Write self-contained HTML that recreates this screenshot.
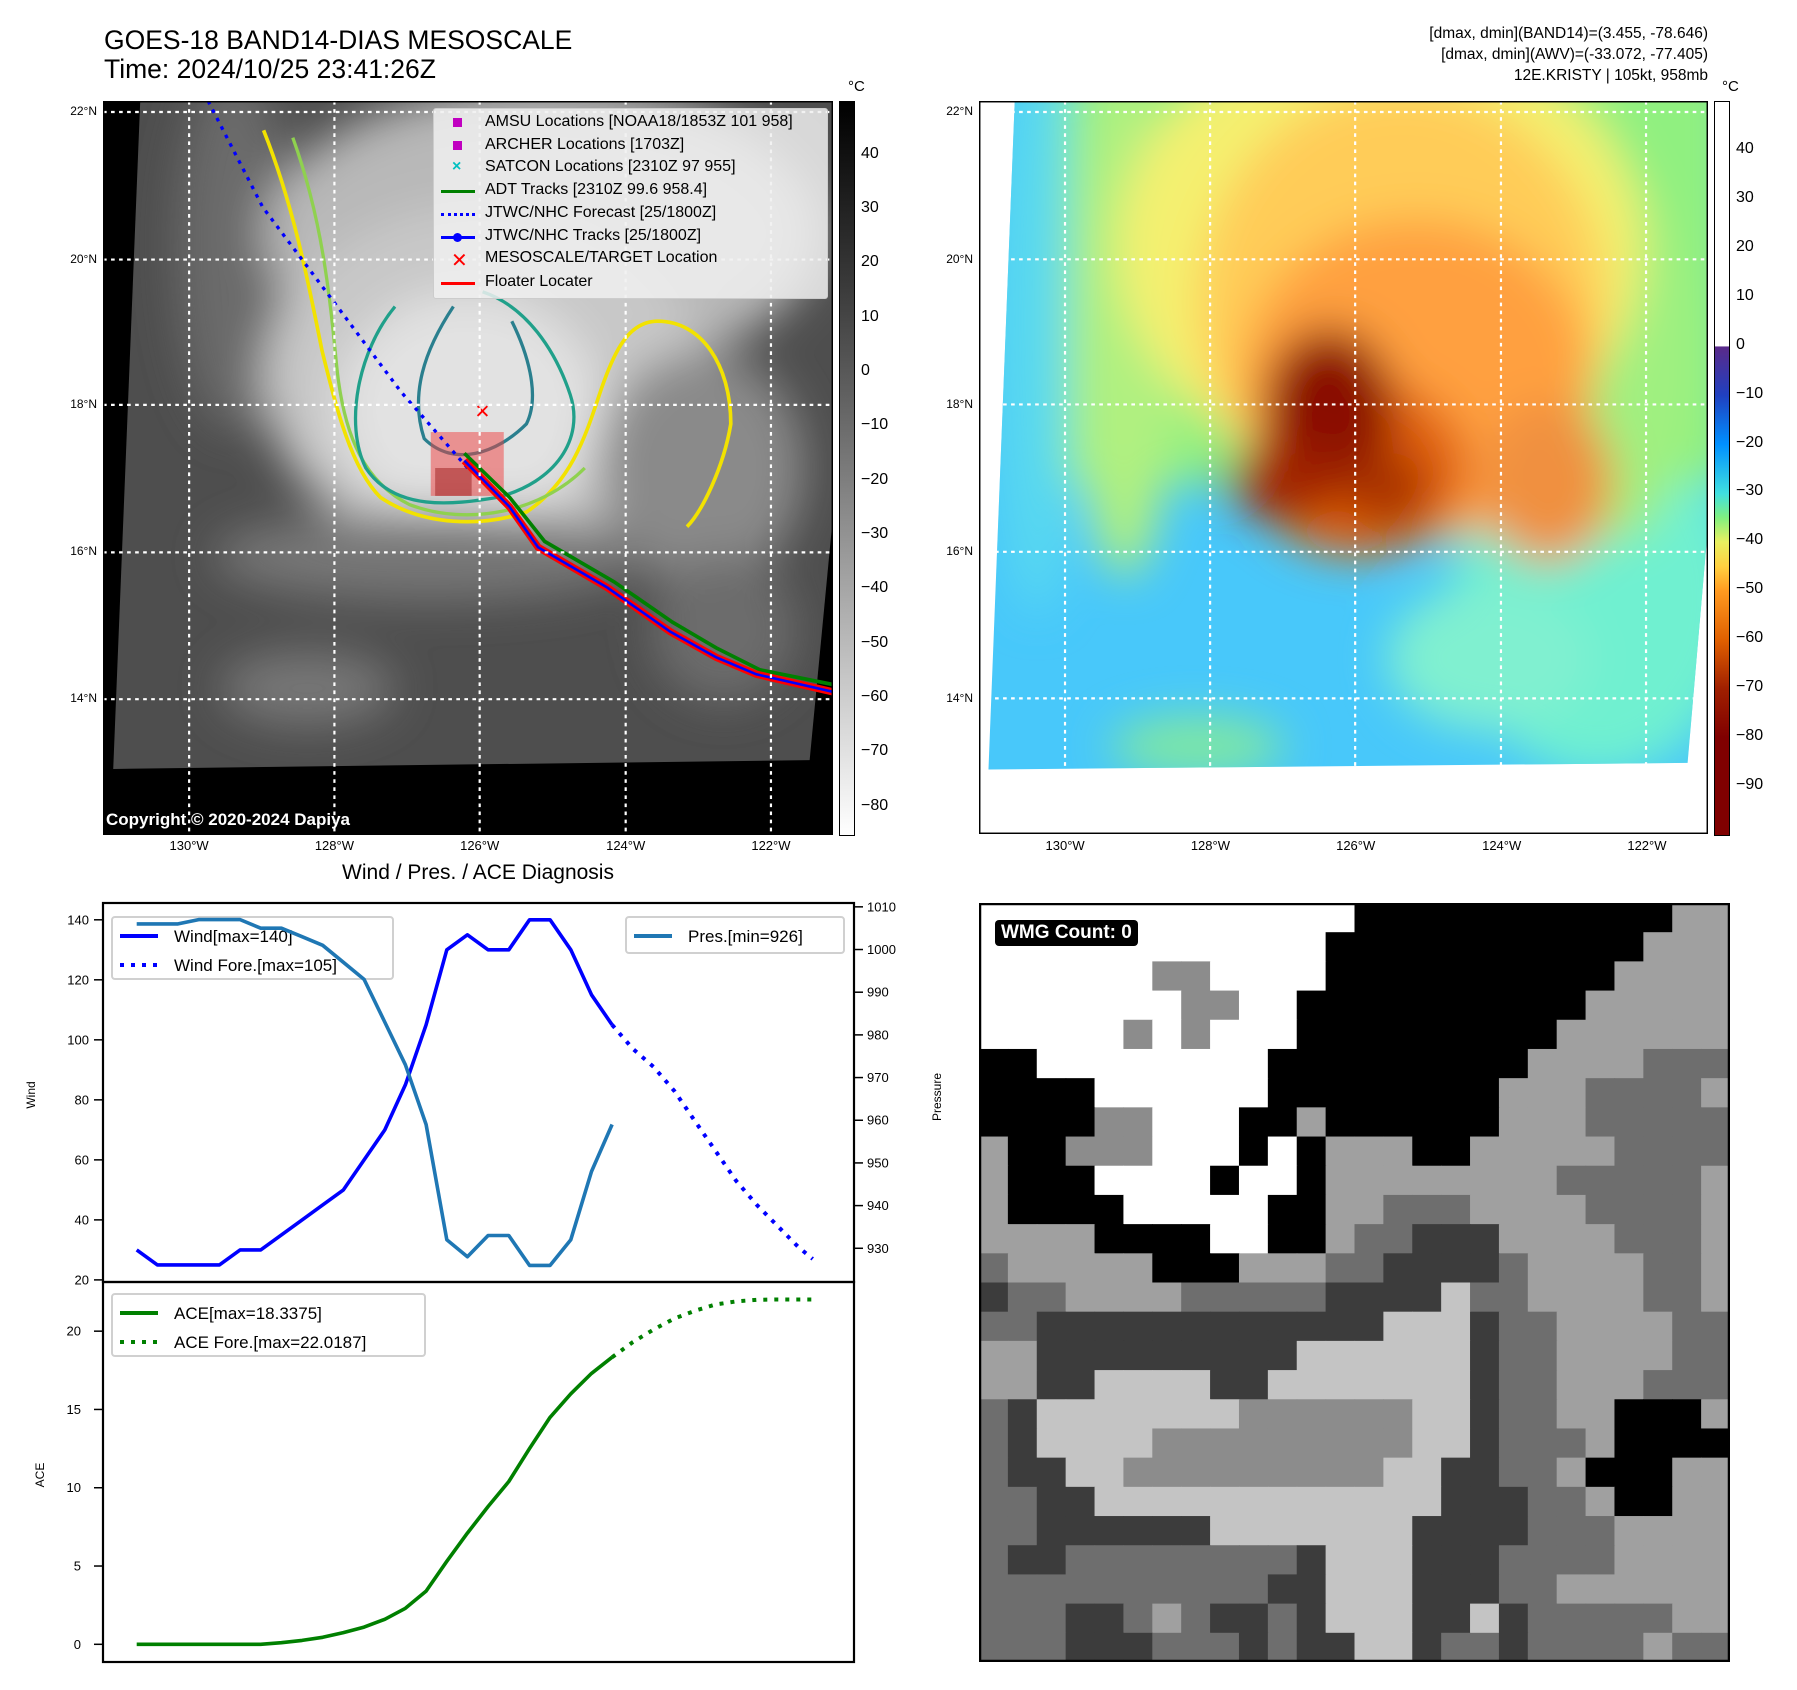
<!DOCTYPE html>
<html><head><meta charset="utf-8">
<style>
html,body{margin:0;padding:0;background:#fff;}
body{width:1797px;height:1690px;position:relative;overflow:hidden;font-family:"Liberation Sans","DejaVu Sans",sans-serif;}
.abs{position:absolute;}
.t{position:absolute;white-space:nowrap;color:#000;}
</style></head>
<body>
<div class="t" style="left:104px;top:26px;font-size:26.5px;line-height:29px;">GOES-18 BAND14-DIAS MESOSCALE<br>Time: 2024/10/25 23:41:26Z</div>
<div class="t" style="right:89px;top:23px;font-size:15.5px;line-height:21px;text-align:right;">[dmax, dmin](BAND14)=(3.455, -78.646)<br>[dmax, dmin](AWV)=(-33.072, -77.405)<br>12E.KRISTY | 105kt, 958mb</div>

<!-- LEFT MAP -->
<svg class="abs" style="left:103px;top:101px;" width="730" height="734" viewBox="0 0 100 100" preserveAspectRatio="none">
<defs>
<filter id="b1" x="-30%" y="-30%" width="160%" height="160%"><feGaussianBlur stdDeviation="3"/></filter>
<filter id="b2" x="-30%" y="-30%" width="160%" height="160%"><feGaussianBlur stdDeviation="1.5"/></filter>
<clipPath id="qL"><polygon points="5.1,0 100,0 100,56.5 96.8,89.8 1.4,91"/></clipPath>
<clipPath id="qR"><polygon points="4.9,0 100,0 100,58 97.2,90.3 1.3,91.2"/></clipPath>
</defs>
<rect x="0" y="0" width="100" height="100" fill="#000"/>
<g clip-path="url(#qL)">
<rect x="0" y="0" width="100" height="100" fill="#4e4e4e"/>
<g filter="url(#b1)">
<ellipse cx="18" cy="20" rx="8" ry="25" fill="#6a6a6a"/>
<ellipse cx="60" cy="18" rx="38" ry="20" fill="#b8b8b8"/>
<ellipse cx="52" cy="38" rx="30" ry="24" fill="#c8c8c8"/>
<ellipse cx="50" cy="42" rx="18" ry="16" fill="#e2e2e2"/>
<ellipse cx="82" cy="50" rx="14" ry="16" fill="#8a8a8a"/>
<ellipse cx="45" cy="62" rx="30" ry="6" fill="#777"/>
<ellipse cx="28" cy="80" rx="12" ry="5" fill="#777"/>
<ellipse cx="85" cy="72" rx="10" ry="10" fill="#6c6c6c"/>
</g>
</g>
<g fill="none">
<path d="M22,4 C26,14 28,24 30,34 C32,42 34,50 38,54 C44,58 52,58 58,56 C64,52 66,46 68,40 C70,34 72,30 76,30 C82,30 86,36 86,44 C85,50 82,56 80,58" stroke="#f2e200" stroke-width="0.5"/>
<path d="M26,5 C30,16 31,26 32,36 C33,46 36,52 42,55 C50,58 60,56 66,50" stroke="#8fd14f" stroke-width="0.45"/>
<path d="M40,28 C35,34 33,44 36,50 C40,56 48,55 54,54 C62,52 66,46 64,40 C62,34 58,28 52,26" stroke="#20a08a" stroke-width="0.45"/>
<path d="M48,28 C44,34 42,40 44,46 C48,50 54,48 58,44 C60,40 58,34 56,30" stroke="#2a7f8e" stroke-width="0.45"/>
</g>
<rect x="44.9" y="45.1" width="10" height="8.7" fill="#f04040" opacity="0.5"/>
<rect x="45.5" y="50" width="5" height="3.8" fill="#8a0000" opacity="0.4"/>
<polyline points="14.4,0 21.9,14.5 33,29.2 40.8,39.6 50.2,50.3" fill="none" stroke="#0000ff" stroke-width="0.45" stroke-dasharray="0.5,0.8"/>
<polyline points="49.5,48 55.7,54 60.5,60 70,65.5 78,71 84,74.5 90,77.5 100,79.5" fill="none" stroke="#008000" stroke-width="0.5"/>
<polyline points="49.5,49 55.7,55.3 59.6,60.8 69.1,66.3 77.7,72.3 84,75.8 89.5,78.1 100,80.5" fill="none" stroke="#ff0000" stroke-width="1"/>
<polyline points="49.5,49 55.7,55.3 59.6,60.8 69.1,66.3 77.7,72.3 84,75.8 89.5,78.1 100,80.5" fill="none" stroke="#0000ff" stroke-width="0.35"/>
<text x="50.9" y="43.2" font-size="2.6" fill="#ff0000" font-weight="bold">✕</text>
<g stroke="#fff" stroke-width="0.3" stroke-dasharray="0.5,0.6" fill="none">
<line x1="11.8" y1="0" x2="11.8" y2="100"/><line x1="31.7" y1="0" x2="31.7" y2="100"/><line x1="51.6" y1="0" x2="51.6" y2="100"/><line x1="71.6" y1="0" x2="71.6" y2="100"/><line x1="91.5" y1="0" x2="91.5" y2="100"/>
<line x1="0" y1="1.5" x2="100" y2="1.5"/><line x1="0" y1="21.6" x2="100" y2="21.6"/><line x1="0" y1="41.4" x2="100" y2="41.4"/><line x1="0" y1="61.5" x2="100" y2="61.5"/><line x1="0" y1="81.5" x2="100" y2="81.5"/>
</g>
<rect x="0" y="0" width="100" height="100" fill="none" stroke="#000" stroke-width="0.4"/>
</svg>
<div class="t" style="left:106px;top:810px;font-size:17px;font-weight:bold;color:#fff;">Copyright © 2020-2024 Dapiya</div>

<!-- map legend -->
<div class="abs" style="left:433px;top:108px;width:393px;height:189px;background:rgba(240,240,240,0.85);border:1px solid #ccc;border-radius:3px;font-size:16px;">
<div style="position:absolute;left:0;top:0;width:100%;">
<div class="t" style="left:51px;top:4px;">AMSU Locations [NOAA18/1853Z 101 958]</div>
<div class="t" style="left:51px;top:27px;">ARCHER Locations [1703Z]</div>
<div class="t" style="left:51px;top:49px;">SATCON Locations [2310Z 97 955]</div>
<div class="t" style="left:51px;top:72px;">ADT Tracks [2310Z 99.6 958.4]</div>
<div class="t" style="left:51px;top:95px;">JTWC/NHC Forecast [25/1800Z]</div>
<div class="t" style="left:51px;top:118px;">JTWC/NHC Tracks [25/1800Z]</div>
<div class="t" style="left:51px;top:140px;">MESOSCALE/TARGET Location</div>
<div class="t" style="left:51px;top:164px;">Floater Locater</div>
<div class="abs" style="left:19px;top:9px;width:9px;height:9px;background:#c000c0;"></div>
<div class="abs" style="left:19px;top:32px;width:9px;height:9px;background:#c000c0;"></div>
<div class="t" style="left:18px;top:49px;color:#00c0c0;font-weight:bold;">×</div>
<div class="abs" style="left:7px;top:81px;width:34px;height:3px;background:#008000;"></div>
<div class="abs" style="left:7px;top:104px;width:34px;height:0;border-top:3px dotted #0000ff;"></div>
<div class="abs" style="left:7px;top:127px;width:34px;height:3px;background:#0000ff;"></div>
<div class="abs" style="left:19px;top:124px;width:9px;height:9px;border-radius:50%;background:#0000ff;"></div>
<div class="t" style="left:17px;top:139px;color:#ff0000;font-weight:bold;font-size:20px;">✕</div>
<div class="abs" style="left:7px;top:173px;width:34px;height:3px;background:#ff0000;"></div>
</div></div>

<!-- left colorbar -->
<div class="abs" style="left:839px;top:101px;width:14px;height:733px;border:1px solid #000;background:linear-gradient(#000,#3a3a3a 25%,#7a7a7a 50%,#bdbdbd 75%,#fff);"></div>
<div class="t" style="left:848px;top:78px;font-size:15px;">°C</div>
<div id="lcb"></div>

<!-- RIGHT MAP -->
<svg class="abs" style="left:979px;top:101px;" width="729" height="733" viewBox="0 0 100 100" preserveAspectRatio="none">
<rect x="0" y="0" width="100" height="100" fill="#fff"/>
<g clip-path="url(#qR)">
<rect x="0" y="0" width="100" height="100" fill="#48c8fa"/>
<g filter="url(#b1)">
<ellipse cx="8" cy="30" rx="6" ry="40" fill="#58d8f0"/>
<ellipse cx="85" cy="68" rx="20" ry="24" fill="#70f0d0"/>
<rect x="12" y="-10" width="92" height="62" fill="#90f080"/>
<ellipse cx="20" cy="30" rx="7" ry="35" fill="#b0f080"/>
<ellipse cx="88" cy="35" rx="10" ry="25" fill="#a0f080"/>
<ellipse cx="55" cy="20" rx="36" ry="30" fill="#f4f070"/>
<ellipse cx="58" cy="28" rx="28" ry="30" fill="#ffcc58"/>
<ellipse cx="60" cy="38" rx="24" ry="22" fill="#ffa040"/>
<ellipse cx="78" cy="52" rx="9" ry="11" fill="#f09040"/>
<ellipse cx="52" cy="50" rx="15" ry="12" fill="#e06010"/>
<ellipse cx="48" cy="42" rx="9" ry="11" fill="#8a0800"/>
<ellipse cx="42" cy="52" rx="8" ry="5" fill="#a02000"/>
<ellipse cx="56" cy="53" rx="6" ry="5" fill="#a83000"/>
<ellipse cx="30" cy="88" rx="12" ry="4" fill="#80e8a0"/>
<ellipse cx="70" cy="76" rx="14" ry="10" fill="#80f0d0"/>
</g>
</g>
<g stroke="#fff" stroke-width="0.3" stroke-dasharray="0.5,0.6" fill="none">
<line x1="11.8" y1="0" x2="11.8" y2="91"/><line x1="31.7" y1="0" x2="31.7" y2="91"/><line x1="51.6" y1="0" x2="51.6" y2="91"/><line x1="71.6" y1="0" x2="71.6" y2="91"/><line x1="91.5" y1="0" x2="91.5" y2="91"/>
<line x1="0" y1="1.5" x2="100" y2="1.5"/><line x1="0" y1="21.6" x2="100" y2="21.6"/><line x1="0" y1="41.4" x2="100" y2="41.4"/><line x1="0" y1="61.5" x2="100" y2="61.5"/><line x1="0" y1="81.5" x2="98" y2="81.5"/>
</g>
<rect x="0" y="0" width="100" height="100" fill="none" stroke="#000" stroke-width="0.4"/>
</svg>
<div class="abs" style="left:1714px;top:101px;width:14px;height:733px;border:1px solid #000;background:linear-gradient(#fff 0%,#fff 33.3%,#5a2a8a 33.4%,#2040c0 40%,#0090ff 46.7%,#40e0e0 53.4%,#80f080 56.7%,#e8f060 60%,#ffd040 63.4%,#ff9a20 66.7%,#e06000 73.4%,#a02000 80%,#800000 86.7%,#800000 100%);"></div>
<div class="t" style="left:1722px;top:78px;font-size:15px;">°C</div>
<div id="rcb"></div>
<div id="maplabels"></div>

<!-- charts -->
<div class="t" style="left:478px;top:861px;transform:translateX(-50%);font-size:21px;">Wind / Pres. / ACE Diagnosis</div>
<svg class="abs" id="chart" style="left:0;top:0;" width="960" height="1690"></svg>

<!-- WMG -->
<svg class="abs" id="wmg" style="left:979px;top:903px;" width="751" height="759"></svg>
<div class="t" style="left:995px;top:920px;background:#000;color:#fff;font-weight:bold;font-size:19px;padding:2px 6px;border-radius:4px;">WMG Count: 0</div>

<script>
const NS='http://www.w3.org/2000/svg';
function mk(parent,tag,attrs){const e=document.createElementNS(NS,tag);for(const k in attrs)e.setAttribute(k,attrs[k]);parent.appendChild(e);return e;}
function txt(parent,x,y,s,size,anchor,extra){const e=mk(parent,'text',Object.assign({x:x,y:y,'font-size':size,'text-anchor':anchor||'start','font-family':'Liberation Sans, DejaVu Sans, sans-serif',fill:'#000'},extra||{}));e.textContent=s;return e;}

const lcbTicks=[40,30,20,10,0,-10,-20,-30,-40,-50,-60,-70,-80];
const rcbTicks=[40,30,20,10,0,-10,-20,-30,-40,-50,-60,-70,-80,-90];
(function(){
 const L=document.getElementById('lcb');
 lcbTicks.forEach(v=>{const y=101+(49.9-v)/134.9*733;const d=document.createElement('div');d.className='t';d.style.cssText='left:861px;top:'+(y-10)+'px;font-size:16px;';d.textContent=(v<0?'\u2212'+(-v):v);
 
 
 L.appendChild(d);});
 const R=document.getElementById('rcb');
 rcbTicks.forEach(v=>{const y=101+(50.1-v)/150*733;const d=document.createElement('div');d.className='t';d.style.cssText='left:1736px;top:'+(y-10)+'px;font-size:16px;';d.textContent=(v<0?'\u2212'+(-v):v);
 
 
 R.appendChild(d);});
 const M=document.getElementById('maplabels');
 const lons=['130°W','128°W','126°W','124°W','122°W'],lf=[0.118,0.317,0.516,0.716,0.915];
 const lats=['22°N','20°N','18°N','16°N','14°N'],af=[0.015,0.216,0.414,0.615,0.815];
 [103,979].forEach(x0=>{
  lons.forEach((s,i)=>{const d=document.createElement('div');d.className='t';d.style.cssText='left:'+(x0+730*lf[i])+'px;top:838px;font-size:13px;transform:translateX(-50%);';d.textContent=s;
  
  
  M.appendChild(d);});
  lats.forEach((s,i)=>{const d=document.createElement('div');d.className='t';d.style.cssText='right:'+(1797-x0+6)+'px;top:'+(101+734*af[i]-8)+'px;font-size:12px;';d.textContent=s;
  
  
  M.appendChild(d);});
 });
})();

// ===== chart data =====
const windX=[0,1,2,3,4,5,6,7,8,9,10,11,12,13,14,15,16,17,18,19,20,21,22,23];
const windVals=[30,25,25,25,25,30,30,35,40,45,50,60,70,85,105,130,135,130,130,140,140,130,115,105];
const presVals=[1006,1006,1006,1007,1007,1007,1005,1005,1003,1001,997,993,983,973,959,932,928,933,933,926,926,932,948,959];
const aceVals=[0,0,0,0,0,0,0,0.1,0.25,0.45,0.75,1.1,1.6,2.3,3.4,5.3,7.1,8.8,10.4,12.5,14.5,16,17.3,18.34];
const fcX=[23,24,25,26,27,28,29,30,31,32,32.7];
const windFc=[105,97,91,83,73,63,53,45,38,31,27];
const aceFc=[18.34,19.3,20.1,20.8,21.3,21.7,21.9,22.0,22.02,22.02,22.02];
const windTicks=[20,40,60,80,100,120,140];
const presTicks=[930,940,950,960,970,980,990,1000,1010];
const aceTicks=[0,5,10,15,20];

const PX0=103,PX1=854,TY0=903,TY1=1282,BY0=1282,BY1=1662;
const xs=i=>PX0+(i-(-1.63))/(34.7+1.63)*(PX1-PX0);
const yW=v=>TY1-(v-19.3)/(145.6-19.3)*(TY1-TY0);
const yP=v=>TY1-(v-922.1)/(1010.9-922.1)*(TY1-TY0);
const yA=v=>BY1-(v+1.13)/(23.14+1.13)*(BY1-BY0);

const C=document.getElementById('chart');
function pl(xa,ya,fx,fy,attrs,name){const p=mk(C,'polyline',Object.assign({points:xa.map((x,i)=>fx(x).toFixed(1)+','+fy(ya[i]).toFixed(1)).join(' '),fill:'none','stroke-linejoin':'round'},attrs));
 
 
 return p;}
function legend(x,y,w,h,items,name){const g=mk(C,'g',{});
 
 
 mk(g,'rect',{x:x,y:y,width:w,height:h,rx:3,fill:'rgba(255,255,255,0.8)',stroke:'#d0d0d0','stroke-width':2});
 items.forEach((it,i)=>{const cy=y+19+i*29;mk(g,'line',{x1:x+8,x2:x+46,y1:cy,y2:cy,stroke:it[1],'stroke-width':4,'stroke-dasharray':it[2]?'4,7':'none'});txt(g,x+62,cy+6,it[0],17,'start');});}
pl(windX,windVals,xs,yW,{stroke:'#0000ff','stroke-width':3.6},'wind-line');
pl(fcX,windFc,xs,yW,{stroke:'#0000ff','stroke-width':4,'stroke-dasharray':'4,7'},'wind-forecast-line');
legend(112,917,281,62,[['Wind[max=140]','#0000ff',0],['Wind Fore.[max=105]','#0000ff',1]],'wind-legend');
pl(windX,presVals,xs,yP,{stroke:'#1f77b4','stroke-width':3.6},'pressure-line');
legend(626,917,218,36,[['Pres.[min=926]','#1f77b4',0]],'pressure-legend');
pl(windX,aceVals,xs,yA,{stroke:'#008000','stroke-width':3.6},'ace-line');
pl(fcX,aceFc,xs,yA,{stroke:'#008000','stroke-width':4,'stroke-dasharray':'4,7'},'ace-forecast-line');
legend(112,1294,313,62,[['ACE[max=18.3375]','#008000',0],['ACE Fore.[max=22.0187]','#008000',1]],'ace-legend');
let r=mk(C,'rect',{x:PX0,y:TY0,width:PX1-PX0,height:TY1-TY0,fill:'none',stroke:'#000','stroke-width':2.2});


r=mk(C,'rect',{x:PX0,y:BY0,width:PX1-PX0,height:BY1-BY0,fill:'none',stroke:'#000','stroke-width':2.2});


windTicks.forEach(v=>{const y=yW(v);mk(C,'line',{x1:PX0-9,x2:PX0,y1:y,y2:y,stroke:'#000','stroke-width':1.5});const t=txt(C,PX0-14,y+4.5,v,13,'end');
 
 });
presTicks.forEach(v=>{const y=yP(v);mk(C,'line',{x1:PX1,x2:PX1+9,y1:y,y2:y,stroke:'#000','stroke-width':1.5});const t=txt(C,PX1+13,y+4.5,v,13,'start');
 
 });
aceTicks.forEach(v=>{const y=yA(v);mk(C,'line',{x1:PX0-9,x2:PX0,y1:y,y2:y,stroke:'#000','stroke-width':1.5});const t=txt(C,PX0-22,y+4.5,v,13,'end');
 
 });
let t=txt(C,0,0,'Wind',12,'middle',{transform:'translate(35,1095) rotate(-90)'});


t=txt(C,0,0,'Pressure',12,'middle',{transform:'translate(941,1097) rotate(-90)'});


t=txt(C,0,0,'ACE',12,'middle',{transform:'translate(44,1475) rotate(-90)'});



const wmgRows=[
"WWWWWWWWWWWWWKKKKKKKKKKKAA",
"WWWWWWWWWWWWKKKKKKKKKKKAAA",
"WWWWWWMMWWWWKKKKKKKKKKAAAA",
"WWWWWWWMMWWKKKKKKKKKKAAAAA",
"WWWWWMWMWWWKKKKKKKKKAAAAAA",
"KKWWWWWWWWKKKKKKKKKAAAABBB",
"KKKKWWWWWWKKKKKKKKAAABBBBA",
"KKKKMMWWWKKAKKKKKKAAABBBBB",
"AKKMMMWWWKWKAAAKKAAAAABBBB",
"AKKKWWWWKWWKAAAAAAAABBBBBA",
"AKKKKWWWWWKKAABBBAAAABBBBA",
"AAAAKKKKWWKKABBCCCAAAABBBA",
"BAAAAAKKKAAABBCCCCBAAAABBA",
"CBBAAAABBBBBCCCCLBBAAAABBA",
"BBCCCCCCCCCCCCLLLCBBAAAABB",
"AACCCCCCCCCLLLLLLCBBAAAABB",
"AACCLLLLCCLLLLLLLCBBAAABBB",
"BCLLLLLLLMMMMMMLLCBBAAKKKA",
"BCLLLLMMMMMMMMMLLCBBBAKKKK",
"BCCLLMMMMMMMMMLLCCBBAKKKAA",
"BBCCLLLLLLLLLLLLCCCBBAKKAA",
"BBCCCCCCLLLLLLLCCCCBBBAAAA",
"BCCBBBBBBBBCLLLCCCBBBBAAAA",
"BBBBBBBBBBCCLLLCCCBBAAAAAA",
"BBBCCBABCCBCLLLCCLCBBBBBAA",
"BBBCCCBBBCBCCLLCBBCBBBBABB"];
const wmgCols={W:'#ffffff',K:'#000000',A:'#a0a0a0',B:'#6e6e6e',C:'#3c3c3c',L:'#c4c4c4',M:'#8c8c8c'};
(function(){const S=document.getElementById('wmg');const n=26,cw=751/n,ch=759/n;
 wmgRows.forEach((row,j)=>{for(let i=0;i<n;i++){const c=mk(S,'rect',{x:(i*cw).toFixed(2),y:(j*ch).toFixed(2),width:(cw+0.6).toFixed(2),height:(ch+0.6).toFixed(2),fill:wmgCols[row[i]]});
 
 }});
 mk(S,'rect',{x:1,y:1,width:749,height:757,fill:'none',stroke:'#000','stroke-width':2.5});
})();
</script>
</body></html>
